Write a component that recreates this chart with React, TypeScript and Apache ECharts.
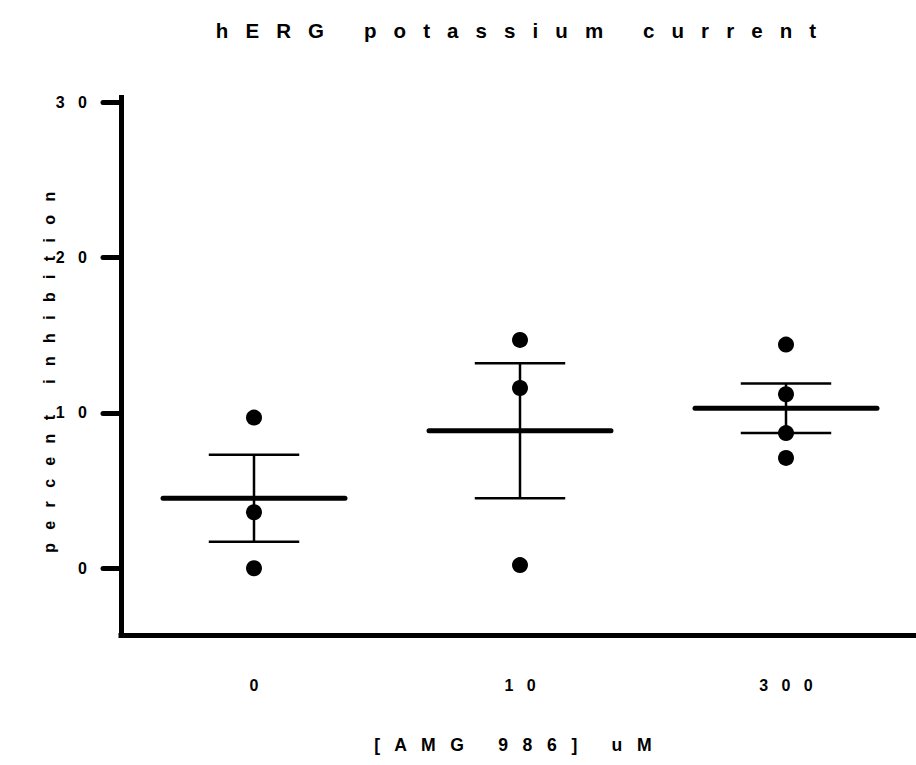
import React, { useEffect, useRef } from 'react';
import * as echarts from 'echarts';

const categories = ['0', '10', '300'];
const points0 = [9.7, 3.6, 0.0];
const points10 = [14.7, 11.6, 0.2];
const points300 = [14.4, 11.2, 8.7, 7.1];
const means = [4.5, 8.85, 10.3];
const sems = [2.8, 4.35, 1.6];
const yTickValues = [0, 10, 20, 30];

const titleText = 'hERG potassium current';
const xName = '[AMG 986] uM';
const yName = 'percent inhibition';

const FONT = '"Liberation Sans", Arial, Helvetica, sans-serif';

const spaced = (s: string, n: number) => s.split('').join(' '.repeat(n));

export default function App() {
  const ref = useRef<HTMLDivElement>(null);
  useEffect(() => {
    if (!ref.current) return;
    const chart = echarts.init(ref.current, null, { renderer: 'svg' });
    const scatterData: number[][] = [];
    [points0, points10, points300].forEach((arr, i) => arr.forEach((v) => scatterData.push([i, v])));
    const summary = means.map((m, i) => [i, m, sems[i]]);
    chart.setOption({
      animation: false,
      backgroundColor: '#fff',
      title: {
        text: spaced(titleText, 3),
        left: 511,
        top: 15,
        textAlign: 'center',
        textStyle: { fontFamily: FONT, fontWeight: 'bold', fontSize: 20.5, color: '#000' },
      },
      grid: { left: 121, top: 97.6, width: 798, height: 537.4, outerBoundsMode: 'none' },
      xAxis: {
        type: 'category',
        data: categories,
        boundaryGap: true,
        axisLine: { onZero: false, lineStyle: { color: '#000', width: 5, cap: 'square' } },
        axisTick: { alignWithLabel: true, length: 16, lineStyle: { color: '#000', width: 5, cap: 'round' } },
        axisLabel: {
          margin: 42,
          formatter: (v: string) => spaced(v, 3),
          fontFamily: FONT, fontWeight: 'bold', fontSize: 16, color: '#000',
        },
        name: spaced(xName, 3),
        nameLocation: 'middle',
        nameGap: 101,
        nameMoveOverlap: false,
        nameTextStyle: { fontFamily: FONT, fontWeight: 'bold', fontSize: 17.6, color: '#000', padding: [0, 14, 0, 0] },
        splitLine: { show: false },
      },
      yAxis: {
        type: 'value',
        min: -4.3,
        max: 30.3,
        axisLine: { show: true, onZero: false, lineStyle: { color: '#000', width: 5, cap: 'square' } },
        axisTick: { show: true, length: 18, customValues: yTickValues, lineStyle: { color: '#000', width: 5, cap: 'round' } },
        axisLabel: {
          margin: 34,
          customValues: yTickValues,
          formatter: (v: number) => spaced(String(v), 3),
          fontFamily: FONT, fontWeight: 'bold', fontSize: 16, color: '#000',
        },
        splitLine: { show: false },
        name: spaced(yName, 3),
        nameLocation: 'middle',
        nameGap: 64,
        nameMoveOverlap: false,
        nameTextStyle: { fontFamily: FONT, fontWeight: 'bold', fontSize: 16, color: '#000', padding: [0, 12, 0, 0] },
      },
      series: [
        {
          type: 'custom',
          data: summary,
          encode: { x: 0, y: 1 },
          renderItem: (params: any, api: any) => {
            const ci = api.value(0);
            const m = api.value(1);
            const e = api.value(2);
            const c = api.coord([ci, m]);
            const hi = api.coord([ci, m + e]);
            const lo = api.coord([ci, m - e]);
            const band = api.size([1, 0])[0];
            const mh = band * 0.342;
            const ch = band * 0.17;
            const thin = { stroke: '#000', lineWidth: 2.5 };
            return {
              type: 'group',
              children: [
                { type: 'line', shape: { x1: c[0], y1: hi[1], x2: c[0], y2: lo[1] }, style: thin },
                { type: 'line', shape: { x1: c[0] - ch, y1: hi[1], x2: c[0] + ch, y2: hi[1] }, style: thin },
                { type: 'line', shape: { x1: c[0] - ch, y1: lo[1], x2: c[0] + ch, y2: lo[1] }, style: thin },
                { type: 'line', shape: { x1: c[0] - mh, y1: c[1], x2: c[0] + mh, y2: c[1] }, style: { stroke: '#000', lineWidth: 5, lineCap: 'round' } },
              ],
            };
          },
          z: 2,
        },
        {
          type: 'scatter',
          data: scatterData,
          symbol: 'circle',
          symbolSize: 16,
          itemStyle: { color: '#000', opacity: 1 },
          z: 3,
        },
      ],
    });
    return () => chart.dispose();
  }, []);
  return <div ref={ref} style={{ position: 'fixed', left: 0, top: 0, width: 916, height: 765 }} />;
}
